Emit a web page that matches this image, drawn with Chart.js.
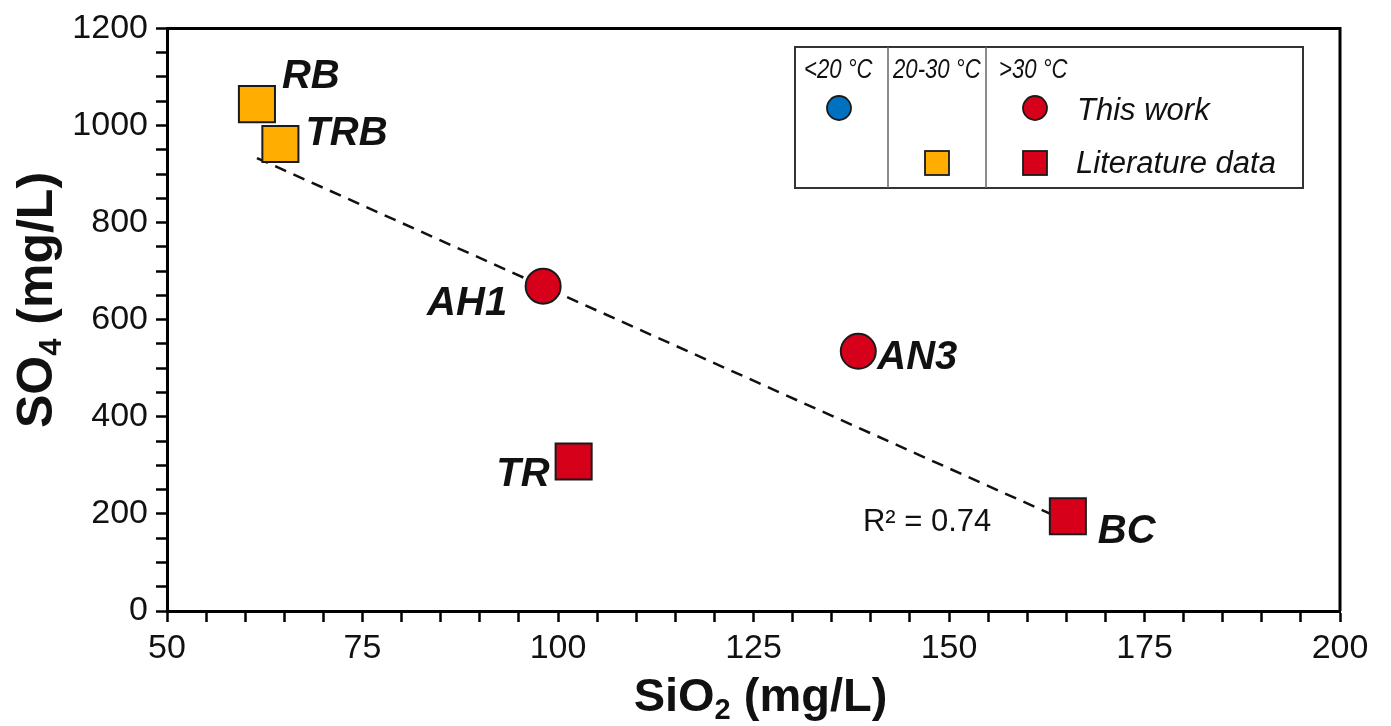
<!DOCTYPE html>
<html>
<head>
<meta charset="utf-8">
<script src="https://cdn.jsdelivr.net/npm/chart.js@4.4.1/dist/chart.umd.min.js"></script>
<style>
  html, body { margin: 0; padding: 0; background: #fff; }
  #wrap { width: 1391px; height: 726px; }
</style>
</head>
<body>
<div id="wrap"><canvas id="chart" width="1391" height="726"></canvas></div>
<script>
// values
const thisWorkNames = ['AH1', 'AN3'];
const thisWorkSiO2 = [98.1, 138.4];
const thisWorkSO4 = [669, 535];

const lit2030Names = ['RB', 'TRB'];
const lit2030SiO2 = [61.5, 64.5];
const lit2030SO4 = [1044, 962];

const lit30Names = ['TR', 'BC'];
const lit30SiO2 = [102.0, 165.2];
const lit30SO4 = [308, 195];

// dashed trend line ends
const trendSiO2 = [61.5, 165.2];
const trendSO4 = [933, 184];
const rSquaredText = 'R² = 0.74';

const xTickLabels = [50, 75, 100, 125, 150, 175, 200];
const yTickLabels = [0, 200, 400, 600, 800, 1000, 1200];

const RED = '#d7001a';
const ORANGE = '#ffad00';
const BLUE = '#0070c0';
const EDGE = '#1a1a1a';
const FONT = "'Liberation Sans', Arial, Helvetica, sans-serif";

function toPoints(xs, ys) {
  return xs.map((x, i) => ({ x: x, y: ys[i] }));
}

// where each label sits relative to its marker
const labelOffsets = {
  RB: { dx: 25, dy: -27, align: 'left' },
  TRB: { dx: 25, dy: -10, align: 'left' },
  AH1: { dx: -36, dy: 18, align: 'right' },
  AN3: { dx: 19, dy: 7, align: 'left' },
  TR: { dx: -24, dy: 14, align: 'right' },
  BC: { dx: 30, dy: 16, align: 'left' }
};

function drawParts(ctx, parts, size, x, y) {
  // parts: [text, isSub]; centred on x, baseline y
  let total = 0;
  parts.forEach(p => {
    ctx.font = 'bold ' + (p[1] ? Math.round(size * 0.62) : size) + 'px ' + FONT;
    total += ctx.measureText(p[0]).width;
  });
  let cx = x - total / 2;
  parts.forEach(p => {
    const s = p[1] ? Math.round(size * 0.62) : size;
    ctx.font = 'bold ' + s + 'px ' + FONT;
    ctx.fillText(p[0], cx, p[1] ? y + size * 0.18 : y);
    cx += ctx.measureText(p[0]).width;
  });
}

// narrow italic header text
function narrowText(ctx, txt, x, y) {
  ctx.save();
  ctx.translate(x, y);
  ctx.scale(0.82, 1);
  ctx.fillText(txt, 0, 0);
  ctx.restore();
}

const decorations = {
  id: 'decorations',
  afterDraw(chart) {
    const ctx = chart.ctx;
    const area = chart.chartArea;
    const xs = chart.scales.x;
    const ys = chart.scales.y;
    ctx.save();

    // frame on top and right
    ctx.strokeStyle = '#000';
    ctx.lineWidth = 3;
    ctx.beginPath();
    ctx.moveTo(area.left, area.top);
    ctx.lineTo(area.right, area.top);
    ctx.lineTo(area.right, area.bottom);
    ctx.stroke();

    // point labels
    ctx.fillStyle = '#111';
    ctx.font = 'italic bold 40px ' + FONT;
    ctx.textBaseline = 'middle';
    chart.data.datasets.forEach((ds, di) => {
      if (!ds.names) return;
      const meta = chart.getDatasetMeta(di);
      meta.data.forEach((el, i) => {
        const o = labelOffsets[ds.names[i]];
        ctx.textAlign = o.align;
        ctx.fillText(ds.names[i], el.x + o.dx, el.y + o.dy);
      });
    });

    // R squared
    ctx.font = '31px ' + FONT;
    ctx.textAlign = 'left';
    ctx.fillText(rSquaredText, xs.getPixelForValue(139), ys.getPixelForValue(182));

    // axis titles
    ctx.textBaseline = 'alphabetic';
    ctx.textAlign = 'left';
    drawParts(ctx, [['SiO', false], ['2', true], [' (mg/L)', false]], 47, (area.left + area.right) / 2 + 7, 711);
    ctx.save();
    ctx.translate(52, 300);
    ctx.rotate(-Math.PI / 2);
    drawParts(ctx, [['SO', false], ['4', true], [' (mg/L)', false]], 50, 0, 0);
    ctx.restore();

    // legend box
    const L = { left: 795, top: 47, right: 1303, bottom: 188 };
    ctx.strokeStyle = '#333';
    ctx.lineWidth = 2;
    ctx.strokeRect(L.left, L.top, L.right - L.left, L.bottom - L.top);
    ctx.strokeStyle = '#666';
    ctx.lineWidth = 1.5;
    [888, 986].forEach(dx => {
      ctx.beginPath();
      ctx.moveTo(dx, L.top);
      ctx.lineTo(dx, L.bottom);
      ctx.stroke();
    });
    ctx.fillStyle = '#111';
    ctx.font = 'italic 27px ' + FONT;
    narrowText(ctx, '<20 °C', 804, 78);
    narrowText(ctx, '20-30 °C', 893, 78);
    narrowText(ctx, '>30 °C', 999, 78);

    ctx.lineWidth = 1.8;
    ctx.strokeStyle = EDGE;
    [[839, 108, BLUE], [1035, 108, RED]].forEach(c => {
      ctx.fillStyle = c[2];
      ctx.beginPath();
      ctx.arc(c[0], c[1], 12, 0, Math.PI * 2);
      ctx.fill();
      ctx.stroke();
    });
    [[937, 163, ORANGE], [1035, 163, RED]].forEach(c => {
      ctx.fillStyle = c[2];
      ctx.fillRect(c[0] - 12, c[1] - 12, 24, 24);
      ctx.strokeRect(c[0] - 12, c[1] - 12, 24, 24);
    });
    ctx.fillStyle = '#111';
    ctx.font = 'italic 31px ' + FONT;
    ctx.fillText('This work', 1077, 120);
    ctx.fillText('Literature data', 1076, 173);

    ctx.restore();
  }
};

new Chart(document.getElementById('chart'), {
  type: 'scatter',
  data: {
    datasets: [
      {
        label: 'trend',
        type: 'line',
        data: toPoints(trendSiO2, trendSO4),
        borderColor: '#111',
        borderWidth: 2.5,
        borderDash: [12, 8],
        pointRadius: 0,
        fill: false,
        order: 10
      },
      {
        label: 'Literature data 20-30 °C',
        names: lit2030Names,
        data: toPoints(lit2030SiO2, lit2030SO4),
        pointStyle: 'rect',
        pointRadius: 25.5,
        backgroundColor: ORANGE,
        borderColor: EDGE,
        borderWidth: 2,
        order: 1
      },
      {
        label: 'Literature data >30 °C',
        names: lit30Names,
        data: toPoints(lit30SiO2, lit30SO4),
        pointStyle: 'rect',
        pointRadius: 25.5,
        backgroundColor: RED,
        borderColor: EDGE,
        borderWidth: 2,
        order: 1
      },
      {
        label: 'This work',
        names: thisWorkNames,
        data: toPoints(thisWorkSiO2, thisWorkSO4),
        pointStyle: 'circle',
        pointRadius: 17.5,
        backgroundColor: RED,
        borderColor: EDGE,
        borderWidth: 2,
        order: 1
      }
    ]
  },
  options: {
    responsive: false,
    animation: false,
    events: [],
    layout: { padding: { top: 26, right: 51, left: 0, bottom: 0 } },
    plugins: {
      legend: { display: false },
      tooltip: { enabled: false }
    },
    scales: {
      x: {
        type: 'linear',
        min: 50,
        max: 200,
        afterFit: s => { s.height = 115; },
        ticks: {
          stepSize: 5,
          autoSkip: false,
          maxRotation: 0,
          padding: 6,
          color: '#111',
          font: { family: FONT, size: 34 },
          callback: v => xTickLabels.includes(v) ? String(v) : ''
        },
        grid: { drawOnChartArea: false, drawTicks: true, tickLength: 11, tickColor: '#000', tickWidth: 2.5 },
        border: { color: '#000', width: 3 }
      },
      y: {
        min: 0,
        max: 1200,
        afterFit: s => { s.width = 167; },
        ticks: {
          stepSize: 50,
          autoSkip: false,
          padding: 8,
          color: '#111',
          font: { family: FONT, size: 34 },
          callback: v => yTickLabels.includes(v) ? String(v) : ''
        },
        grid: { drawOnChartArea: false, drawTicks: true, tickLength: 11, tickColor: '#000', tickWidth: 2.5 },
        border: { color: '#000', width: 3 }
      }
    }
  },
  plugins: [decorations]
});
</script>
</body>
</html>
